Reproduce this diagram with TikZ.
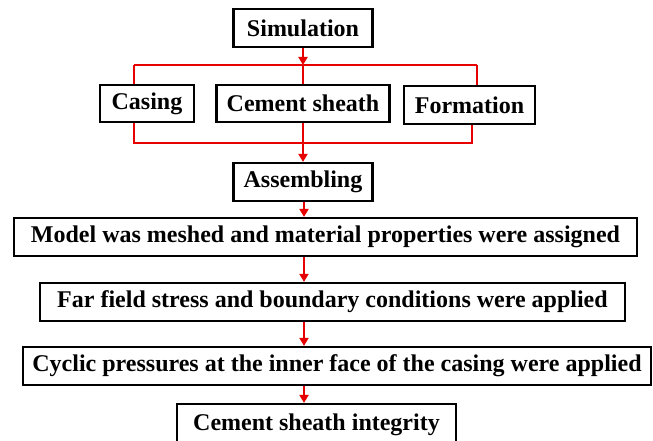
\documentclass[tikz,border=0pt]{standalone}
\usepackage{fontspec}
\setmainfont{Liberation Serif}
\usetikzlibrary{arrows.meta}
\begin{document}
\begin{tikzpicture}[x=1pt,y=-1pt,
  box/.style={draw=black,line width=2.2pt,fill=white,inner sep=0pt,
    font=\fontsize{24}{28}\selectfont\bfseries},
  link/.style={draw={rgb,255:red,230;green,0;blue,0},line width=2.8pt},
  arr/.style={link,-{Triangle[length=8pt,width=9pt]}}]
\useasboundingbox (0,0) rectangle (653,441);
\fill[white] (0,0) rectangle (653,441);
\node[box,minimum width=139pt,minimum height=38pt] (sim) at (303,28) {Simulation};
\node[box,minimum width=94pt,minimum height=37pt] (casing) at (147,103.5) {Casing};
\node[box,minimum width=173pt,minimum height=37pt] (cement) at (303,103.5) {Cement sheath};
\node[box,minimum width=131pt,minimum height=38pt] (form) at (469.5,105) {Formation};
\node[box,minimum width=139pt,minimum height=38pt] (asm) at (303,182) {Assembling};
\node[box,minimum width=623pt,minimum height=38pt] (model) at (325.5,237) {Model was meshed and material properties were assigned};
\node[box,minimum width=585pt,minimum height=38pt] (far) at (332.5,302) {Far field stress and boundary conditions were applied};
\node[box,minimum width=628pt,minimum height=38pt] (cyc) at (337,366) {Cyclic pressures at the inner face of the casing were applied};
\node[box,minimum width=279pt,minimum height=42pt] (integ) at (316.5,425) {Cement sheath integrity};
% top bus
\coordinate (tl) at (134,65);
\coordinate (tm) at (303,65);
\coordinate (tr) at (477,65);
\draw[arr] (sim.south) -- (tm);
\draw[link] (tl) -- (tr);
\draw[link] (tl) -- (tl |- casing.north);
\draw[link] (tm) -- (cement.north);
\draw[link] (tr) -- (tr |- form.north);
% bottom bus
\coordinate (bl) at (134,143);
\coordinate (bm) at (303,143);
\coordinate (br) at (472,143);
\draw[link] (bl |- casing.south) -- (bl) -- (br) -- (br |- form.south);
\draw[link] (cement.south) -- (bm);
\draw[arr] (bm) -- (asm.north);
% chain
\coordinate (sp) at (304,0);
\draw[arr] (sp |- asm.south) -- (sp |- model.north);
\draw[arr] (sp |- model.south) -- (sp |- far.north);
\draw[arr] (sp |- far.south) -- (sp |- cyc.north);
\draw[arr] (sp |- cyc.south) -- (sp |- integ.north);
\end{tikzpicture}
\end{document}
